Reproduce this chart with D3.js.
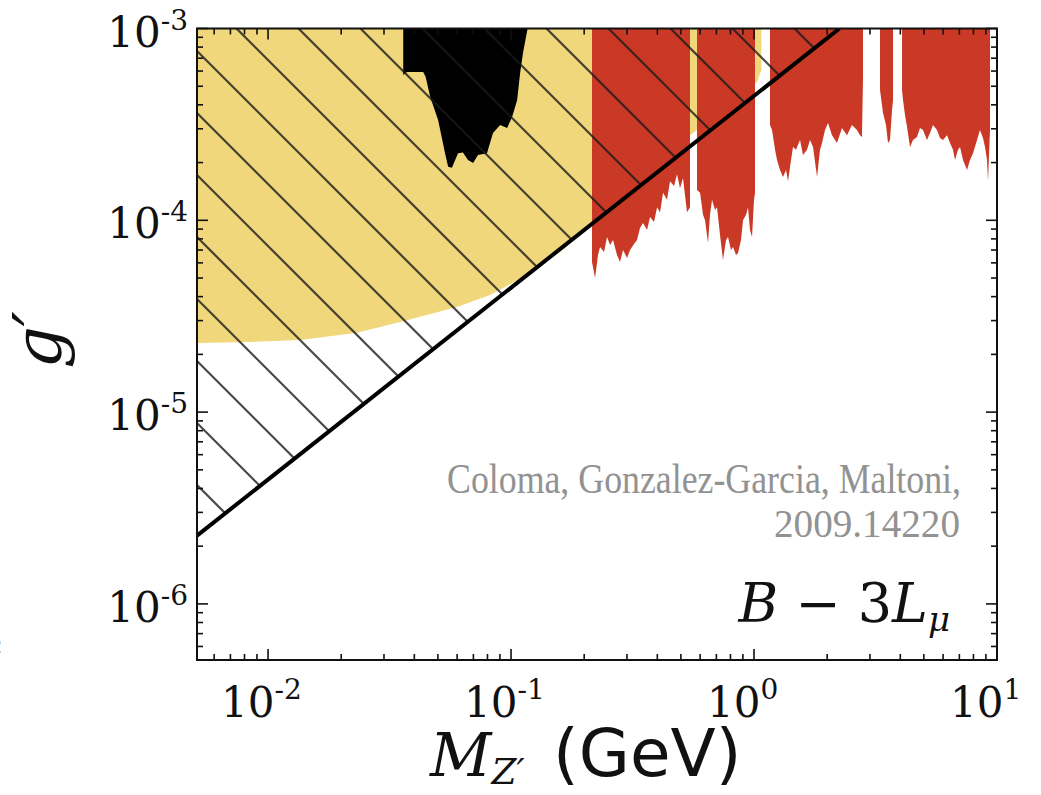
<!DOCTYPE html>
<html>
<head>
<meta charset="utf-8">
<script src="https://cdn.jsdelivr.net/npm/d3@7"></script>
<style>
  html, body { margin: 0; padding: 0; background: #fff; }
  svg { display: block; }
</style>
</head>
<body>
<svg id="chart" width="1041" height="795"></svg>
<script>
// Axis ranges (GeV for the mass, dimensionless coupling)
const massDomain = [5.1e-3, 10];
const couplingDomain = [5.1e-7, 1e-3];
const xTickExps = [-2, -1, 0, 1];
const yTickExps = [-6, -5, -4, -3];

// Lower edge of the yellow excluded region
const yellowMass = [5.10e-3, 8.43e-3, 0.01354, 0.02324, 0.03493, 0.05995, 0.08196, 0.1121, 0.1591, 0.2114, 0.2809, 0.4105, 0.5610, 0.7966, 1.029, 1.072, 1.072];
const yellowG    = [2.29e-5, 2.32e-5, 2.38e-5, 2.59e-5, 2.95e-5, 3.53e-5, 4.08e-5, 5.06e-5, 6.83e-5, 9.23e-5, 1.32e-4, 2.06e-4, 2.85e-4, 3.99e-4, 5.26e-4, 6.08e-4, 1e-3];

// Black excluded region (outline)
const blackMass = [0.0360, 0.0360, 0.0373, 0.0435, 0.0445, 0.0465, 0.0501, 0.0535, 0.0551, 0.0571, 0.0605, 0.0634, 0.0665, 0.0698, 0.0731, 0.0796, 0.0843, 0.0902, 0.0964, 0.101, 0.106, 0.109, 0.112, 0.117];
const blackG    = [1e-3, 5.73e-4, 5.93e-4, 5.93e-4, 5.60e-4, 4.40e-4, 3.33e-4, 2.24e-4, 1.90e-4, 1.88e-4, 2.24e-4, 2.26e-4, 2.06e-4, 1.99e-4, 2.19e-4, 2.24e-4, 2.85e-4, 3.14e-4, 3.03e-4, 3.46e-4, 4.24e-4, 5.86e-4, 7.45e-4, 1e-3];

// Red excluded bands: lower edges (each band is closed up to g' = 1e-3)
const band1Mass = [0.2154, 0.2217, 0.2280, 0.2324, 0.2414, 0.2484, 0.2555, 0.2629, 0.2730, 0.2809, 0.2890, 0.3002, 0.3088, 0.3207, 0.3299, 0.3395, 0.3493, 0.3628, 0.3733, 0.3878, 0.3990, 0.4105, 0.4223, 0.4385, 0.4511, 0.4686, 0.4820, 0.4960, 0.5102, 0.5299, 0.5451];
const band1G    = [6.06e-5, 5.00e-5, 6.59e-5, 7.26e-5, 6.83e-5, 8.18e-5, 7.43e-5, 7.89e-5, 6.59e-5, 6.06e-5, 7.00e-5, 6.36e-5, 7.00e-5, 7.52e-5, 7.89e-5, 9.12e-5, 9.68e-5, 8.90e-5, 1.04e-4, 9.80e-5, 1.17e-4, 1.10e-4, 1.39e-4, 1.28e-4, 1.60e-4, 1.51e-4, 1.74e-4, 1.47e-4, 1.66e-4, 1.10e-4, 1.17e-4];

const band2Mass = [0.5824, 0.5995, 0.6168, 0.6286, 0.6467, 0.6590, 0.6717, 0.6910, 0.7042, 0.7245, 0.7454, 0.7670, 0.7816, 0.8040, 0.8195, 0.8431, 0.8594, 0.8841, 0.9010, 0.9271, 0.9447, 0.9627, 0.9813, 1.000, 1.0095];
const band2G    = [1.44e-4, 1.39e-4, 1.07e-4, 1.00e-4, 7.62e-5, 1.07e-4, 1.28e-4, 1.13e-4, 1.17e-4, 8.38e-5, 6.21e-5, 7.89e-5, 8.18e-5, 7.00e-5, 7.26e-5, 6.59e-5, 6.75e-5, 7.89e-5, 1.00e-4, 1.07e-4, 1.17e-4, 8.90e-5, 8.18e-5, 1.28e-4, 1.39e-4];

const band3Mass = [1.1636, 1.1861, 1.2203, 1.2438, 1.2794, 1.3162, 1.3543, 1.3801, 1.4200, 1.4471, 1.4887, 1.5463, 1.5907, 1.6521, 1.7004, 1.7494, 1.8170, 1.8692, 1.9049, 1.9600, 2.0163, 2.0941, 2.1954, 2.3016, 2.4129, 2.5301, 2.6530, 2.7292, 2.7813, 2.8083];
const band3G    = [3.14e-4, 2.96e-4, 2.33e-4, 2.06e-4, 1.83e-4, 1.68e-4, 1.83e-4, 1.60e-4, 2.06e-4, 2.41e-4, 2.33e-4, 2.62e-4, 2.19e-4, 2.33e-4, 2.62e-4, 2.41e-4, 1.68e-4, 2.33e-4, 2.53e-4, 2.96e-4, 3.22e-4, 2.78e-4, 2.53e-4, 3.03e-4, 2.78e-4, 3.14e-4, 2.96e-4, 2.78e-4, 2.72e-4, 5.39e-4];

const band4Mass = [3.300, 3.395, 3.493, 3.560, 3.629, 3.698, 3.733];
const band4G    = [4.78e-4, 3.63e-4, 3.14e-4, 2.53e-4, 2.62e-4, 3.76e-4, 4.20e-4];

const band5Mass = [4.066, 4.104, 4.182, 4.262, 4.385, 4.511, 4.686, 4.820, 4.960, 5.151, 5.300, 5.452, 5.663, 5.826, 5.995, 6.226, 6.407, 6.591, 6.718, 6.912, 7.043, 7.247, 7.526, 7.743, 7.966, 8.275, 8.511, 8.757, 8.924, 9.096, 9.183, 9.359];
const band5G    = [4.78e-4, 4.24e-4, 3.54e-4, 3.07e-4, 2.41e-4, 2.62e-4, 2.72e-4, 3.03e-4, 2.96e-4, 2.62e-4, 2.85e-4, 3.14e-4, 2.96e-4, 2.69e-4, 2.62e-4, 2.78e-4, 2.53e-4, 2.33e-4, 2.06e-4, 2.33e-4, 2.41e-4, 2.06e-4, 1.83e-4, 2.06e-4, 2.24e-4, 2.62e-4, 2.96e-4, 2.69e-4, 2.41e-4, 2.06e-4, 1.60e-4, 2.96e-4];

// Straight bound g' proportional to M_Z'
const boundMass = [5.1e-3, 2.247];
const boundG    = [2.27e-6, 1e-3];

const creditLines = ["Coloma, Gonzalez-Garcia, Maltoni,", "2009.14220"];

// ---------------------------------------------------------------
const svg = d3.select("#chart");
const plotLeft = 197, plotRight = 997, plotTop = 28.5, plotBottom = 660;

const x = d3.scaleLog().domain(massDomain).range([plotLeft, plotRight]);
const y = d3.scaleLog().domain(couplingDomain).range([plotBottom, plotTop]);

const gTop = couplingDomain[1];
const line = d3.line().x(d => x(d[0])).y(d => y(d[1]));

const defs = svg.append("defs");
defs.append("clipPath").attr("id", "plot-clip")
  .append("rect").attr("x", plotLeft).attr("y", plotTop)
  .attr("width", plotRight - plotLeft).attr("height", plotBottom - plotTop);

const zip = (ms, gs) => ms.map((m, i) => [m, gs[i]]);

const plot = svg.append("g").attr("clip-path", "url(#plot-clip)");

// Yellow region
const yellowPts = [[massDomain[0], gTop], ...zip(yellowMass, yellowG)];
plot.append("path")
  .attr("d", line(yellowPts) + "Z")
  .attr("fill", "#f0d77b");

// Red bands
const bands = [[band1Mass, band1G], [band2Mass, band2G], [band3Mass, band3G], [band4Mass, band4G], [band5Mass, band5G]];
bands.forEach(([ms, gs]) => {
  const pts = [[ms[0], gTop], ...zip(ms, gs), [ms[ms.length - 1], gTop]];
  plot.append("path")
    .attr("d", line(pts) + "Z")
    .attr("fill", "#ca3826");
});

// Black region
plot.append("path")
  .attr("d", line(zip(blackMass, blackG)) + "Z")
  .attr("fill", "#000");

// Hatched region above the straight bound
const tri = [[massDomain[0], gTop], [boundMass[0], boundG[0]], [boundMass[1], boundG[1]]];
defs.append("clipPath").attr("id", "hatch-clip")
  .append("path").attr("d", line(tri) + "Z");

const hatch = plot.append("g").attr("clip-path", "url(#hatch-clip)");
const hatchStep = 62, hatchStart = 51;
d3.range(-16, 10).forEach(k => {
  const y0 = hatchStart + hatchStep * k;
  hatch.append("line")
    .attr("x1", plotLeft).attr("y1", y0)
    .attr("x2", plotLeft + 900).attr("y2", y0 + 900)
    .attr("stroke", "#1a1a1a")
    .attr("stroke-opacity", 0.8)
    .attr("stroke-width", 2.2);
});

// Straight bound
plot.append("path")
  .attr("d", line(zip(boundMass, boundG)))
  .attr("fill", "none")
  .attr("stroke", "#000")
  .attr("stroke-width", 4);

// Frame
svg.append("rect")
  .attr("x", plotLeft).attr("y", plotTop)
  .attr("width", plotRight - plotLeft).attr("height", plotBottom - plotTop)
  .attr("fill", "none").attr("stroke", "#111").attr("stroke-width", 2);

// Ticks (inward, all four sides)
const isMajor = v => Math.abs(Math.log10(v) - Math.round(Math.log10(v))) < 1e-9;
const ticksG = svg.append("g").attr("stroke", "#111").attr("stroke-width", 1.6);
x.ticks().forEach(v => {
  const len = isMajor(v) ? 11 : 6;
  const px = x(v);
  ticksG.append("line").attr("x1", px).attr("x2", px).attr("y1", plotBottom).attr("y2", plotBottom - len);
  ticksG.append("line").attr("x1", px).attr("x2", px).attr("y1", plotTop).attr("y2", plotTop + len);
});
y.ticks().forEach(v => {
  const len = isMajor(v) ? 11 : 6;
  const py = y(v);
  ticksG.append("line").attr("x1", plotLeft).attr("x2", plotLeft + len).attr("y1", py).attr("y2", py);
  ticksG.append("line").attr("x1", plotRight).attr("x2", plotRight - len).attr("y1", py).attr("y2", py);
});

// Tick labels
const labelFont = "'DejaVu Serif', serif";
xTickExps.forEach(e => {
  const t = svg.append("text")
    .attr("x", x(Math.pow(10, e)) - 47).attr("y", 717)
    .attr("font-family", labelFont).attr("font-size", 42).attr("fill", "#111");
  t.append("tspan").text("10");
  t.append("tspan").attr("dy", -18).attr("font-size", 28).text(String(e));
});
yTickExps.forEach(e => {
  const t = svg.append("text")
    .attr("x", 188).attr("y", y(Math.pow(10, e)) + 18)
    .attr("text-anchor", "end")
    .attr("font-family", labelFont).attr("font-size", 42).attr("fill", "#111");
  t.append("tspan").text("10");
  t.append("tspan").attr("dy", -17).attr("font-size", 28).text(String(e));
});

// Axis titles
const xt = svg.append("text")
  .attr("x", 430).attr("y", 776)
  .attr("font-family", labelFont).attr("font-size", 60).attr("fill", "#111");
xt.append("tspan").attr("font-style", "italic").text("M");
xt.append("tspan").attr("font-style", "italic").attr("font-size", 36).attr("dy", 8).text("Z′");
svg.append("text")
  .attr("x", 553).attr("y", 776)
  .attr("font-family", "'DejaVu Sans', sans-serif").attr("font-size", 66).attr("fill", "#111")
  .text("(GeV)");

svg.append("text")
  .attr("transform", "translate(60,340) rotate(-90)")
  .attr("text-anchor", "middle")
  .attr("font-family", labelFont).attr("font-style", "italic")
  .attr("font-size", 66).attr("fill", "#111")
  .text("g′");

// Model label
const ml = svg.append("text")
  .attr("x", 950).attr("y", 622)
  .attr("text-anchor", "end")
  .attr("font-family", labelFont).attr("font-size", 54).attr("fill", "#111");
ml.append("tspan").attr("font-style", "italic").text("B");
ml.append("tspan").text(" − 3");
ml.append("tspan").attr("font-style", "italic").text("L");
ml.append("tspan").attr("font-style", "italic").attr("font-size", 34).attr("dy", 9).text("μ");

// Credit
svg.append("text")
  .attr("x", 961).attr("y", 493)
  .attr("text-anchor", "end")
  .attr("font-family", "'Liberation Serif', serif").attr("font-size", 42)
  .attr("fill", "#929292")
  .attr("textLength", 514).attr("lengthAdjust", "spacingAndGlyphs")
  .text(creditLines[0]);
svg.append("text")
  .attr("x", 960).attr("y", 537)
  .attr("text-anchor", "end")
  .attr("font-family", "'Liberation Serif', serif").attr("font-size", 40)
  .attr("fill", "#929292")
  .attr("textLength", 186).attr("lengthAdjust", "spacingAndGlyphs")
  .text(creditLines[1]);

// Fragment of a neighbouring label at the left edge
svg.append("text")
  .attr("x", -9).attr("y", 653)
  .attr("font-family", "'Liberation Serif', serif").attr("font-size", 22)
  .attr("fill", "#b0b0b0")
  .text("2");
</script>
</body>
</html>
